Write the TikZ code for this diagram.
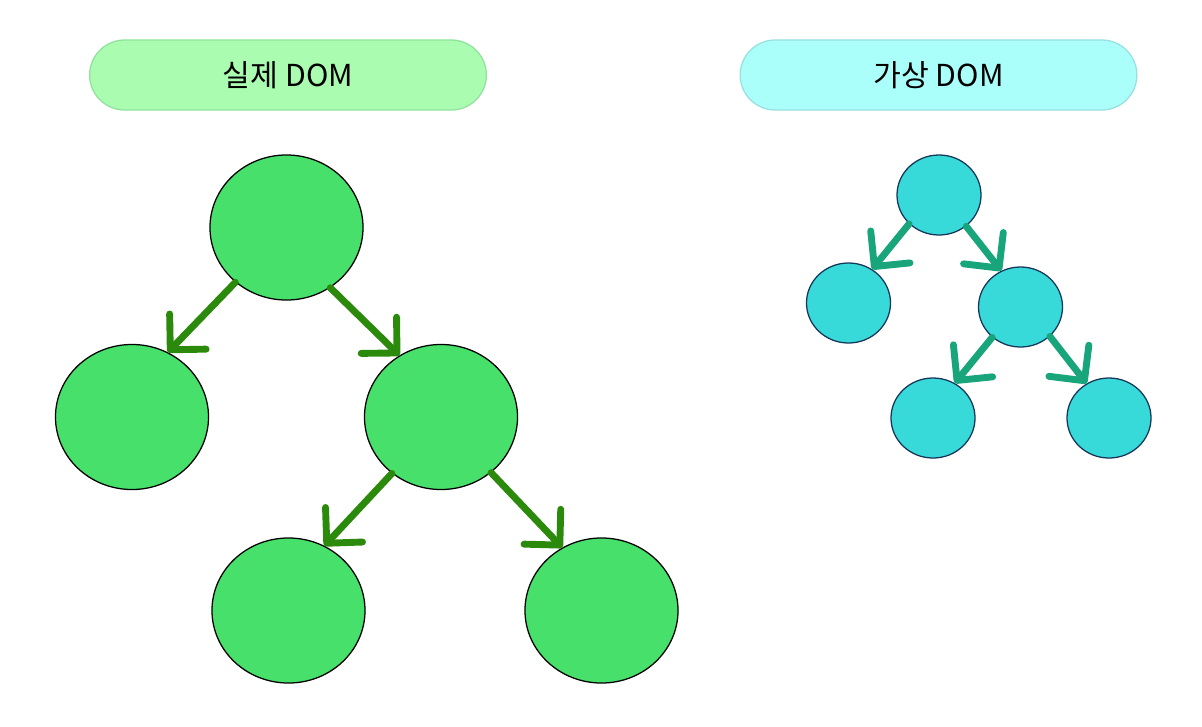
\documentclass[tikz,border=0pt]{standalone}
\usepackage{fontspec}
\newfontfamily\krfont{Noto Sans CJK KR}
\usetikzlibrary{arrows.meta,shapes.geometric,shapes.misc}
\definecolor{realfill}{HTML}{46E06B}
\definecolor{realarrowc}{HTML}{2B8A0B}
\definecolor{realtitle}{HTML}{AAFDB0}
\definecolor{realtitleedge}{HTML}{8FE29C}
\definecolor{virtfill}{HTML}{38D9D9}
\definecolor{virtedge}{HTML}{16375A}
\definecolor{virtarrowc}{HTML}{19A57C}
\definecolor{virttitle}{HTML}{AAFFFA}
\definecolor{virttitleedge}{HTML}{9ADFE0}

\begin{document}
\begin{tikzpicture}[
  x=0.025cm, y=-0.025cm,
  title/.style={rounded rectangle, draw, line width=0.9pt, minimum width=10.15cm, minimum height=1.75cm, font=\krfont\fontsize{21.5}{25}\selectfont},
  realnode/.style={ellipse, draw=black, line width=0.9pt, fill=realfill, minimum width=3.825cm, minimum height=3.625cm, inner sep=0pt},
  virtnode/.style={ellipse, draw=virtedge, line width=0.9pt, fill=virtfill, minimum width=2.1cm, minimum height=2cm, inner sep=0pt},
  realarrow/.style={-{Straight Barb[length=18pt,width=36pt,round]}, line width=4.9pt, line cap=round, draw=realarrowc},
  virtarrow/.style={-{Straight Barb[length=18pt,width=36pt,round]}, line width=4.9pt, line cap=round, draw=virtarrowc}
]
\useasboundingbox (0,0) rectangle (1202,726);
% titles
\node[title, fill=realtitle, draw=realtitleedge] (realtitle) at (288,75) {실제 DOM};
\node[title, fill=virttitle, draw=virttitleedge] (virttitle) at (938.5,75) {가상 DOM};
% real DOM tree
\node[realnode] (root) at (286.5,227.5) {};
\node[realnode] (left) at (132,417) {};
\node[realnode] (right) at (441,417) {};
\node[realnode] (rightleft) at (288.5,610.5) {};
\node[realnode] (rightright) at (601.5,610.5) {};
\draw[realarrow] (root.227) -- (left.61);
\draw[realarrow] (root.306) -- (right.124);
\draw[realarrow] (right.229) -- (rightleft.61);
\draw[realarrow] (right.312) -- (rightright.122);
% virtual DOM tree
\node[virtnode] (vroot) at (939,195) {};
\node[virtnode] (vleft) at (848.5,303) {};
\node[virtnode] (vright) at (1020.5,307) {};
\node[virtnode] (vrightleft) at (933,418) {};
\node[virtnode] (vrightright) at (1109,418) {};
\draw[virtarrow] (vroot.224) -- (vleft.55);
\draw[virtarrow] (vroot.311) -- (vright.118);
\draw[virtarrow] (vright.227) -- (vrightleft.58);
\draw[virtarrow] (vright.315) -- (vrightright.123);
\end{tikzpicture}
\end{document}
